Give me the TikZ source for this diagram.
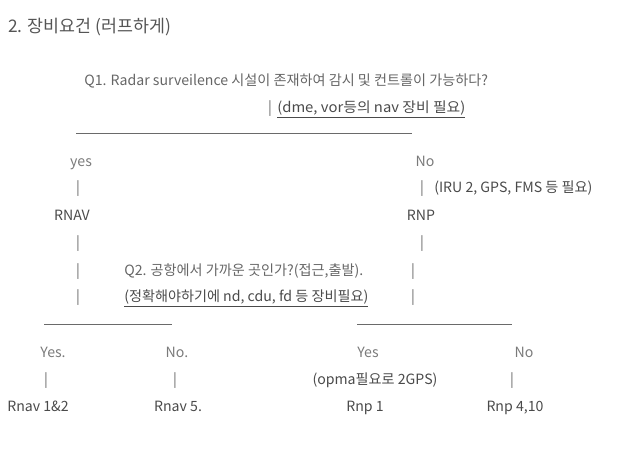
\documentclass[tikz,border=0pt]{standalone}
\usepackage{fontspec}
\setmainfont{Noto Sans CJK KR}
\definecolor{titlec}{HTML}{555555}
\definecolor{txtc}{HTML}{666666}
\definecolor{lightc}{HTML}{7A7A7A}
\definecolor{darkc}{HTML}{4A4A4A}
\definecolor{linec}{HTML}{6A6A6A}
\tikzset{
  txt/.style={inner sep=0pt, text=txtc, text height=0.8em, text depth=0.2em, font=\fontsize{10.6}{12}\selectfont},
  dtxt/.style={txt, text=darkc},
  ltxt/.style={txt, text=lightc},
  bar/.style={txt, text=txtc},
  rule/.style={draw=linec, line width=0.75pt},
}
\begin{document}
\begin{tikzpicture}[x=0.75pt,y=-0.75pt]
\useasboundingbox (0,-2) rectangle (642,450);
\node[inner sep=0pt, anchor=west, text=titlec, font=\fontsize{13}{15}\selectfont] (title) at (8,25) {2. 장비요건 (러프하게)};
% Q1
\node[txt, anchor=west] (q1) at (84,80) {Q1. Radar surveilence 시설이 존재하여 감시 및 컨트롤이 가능하다?};
\node[bar] (b0) at (270,107) {|};
\node[dtxt, anchor=west, xscale=1.05] (nav) at (277,107) {\underline{(dme, vor등의 nav 장비 필요)}};
\coordinate (l1a) at (76,132);
\coordinate (l1b) at (412,132);
\draw[rule] (l1a) -- (l1b);
% level 1
\node[ltxt] (yes1) at (81,161) {yes};
\node[ltxt] (no1) at (425,161) {No};
\node[bar] (b1) at (78,187) {|};
\node[bar] (b2) at (422,187) {|};
\node[dtxt, anchor=west] (iru) at (434,187) {(IRU 2, GPS, FMS 등 필요)};
\node[dtxt] (rnav) at (72,215) {RNAV};
\node[dtxt] (rnp) at (421,215) {RNP};
\node[bar] (b3) at (78,242) {|};
\node[bar] (b4) at (422,242) {|};
% Q2
\node[bar] (b5) at (78,269) {|};
\node[txt, anchor=west] (q2) at (124,269) {Q2. 공항에서 가까운 곳인가?(접근,출발).};
\node[bar] (b6) at (413,269) {|};
\node[bar] (b7) at (78,296) {|};
\node[dtxt, anchor=west] (nd) at (124,296) {\underline{(정확해야하기에 nd, cdu, fd 등 장비필요)}};
\node[bar] (b8) at (413,296) {|};
\coordinate (l2a) at (44,322);
\coordinate (l2b) at (172,322);
\coordinate (l3a) at (357,322);
\coordinate (l3b) at (512,322);
\draw[rule] (l2a) -- (l2b);
\draw[rule] (l3a) -- (l3b);
% level 2
\node[ltxt] (y2) at (53,351) {Yes.};
\node[ltxt] (n2) at (177,351) {No.};
\node[ltxt] (y3) at (368,351) {Yes};
\node[ltxt] (n3) at (524,351) {No};
\node[bar] (b9) at (46,378) {|};
\node[bar] (b10) at (175,378) {|};
\node[dtxt] (opma) at (375,378) {(opma필요로 2GPS)};
\node[bar] (b11) at (512,378) {|};
\node[dtxt] (r12) at (38,405) {Rnav 1\&2};
\node[dtxt] (r5) at (178,405) {Rnav 5.};
\node[dtxt] (rp1) at (365,405) {Rnp 1};
\node[dtxt] (rp4) at (515,405) {Rnp 4,10};
\end{tikzpicture}
\end{document}
